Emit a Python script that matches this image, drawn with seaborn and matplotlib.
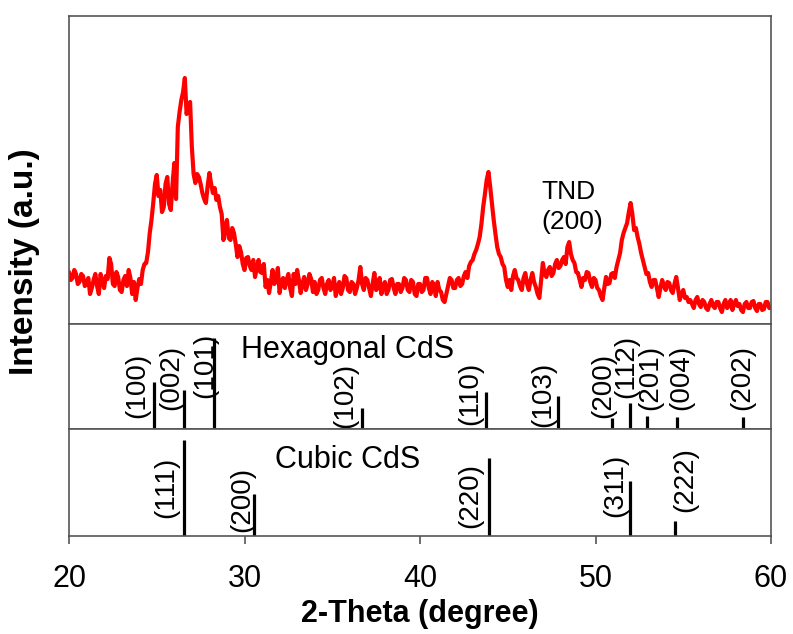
import numpy as np
import pandas as pd
import matplotlib
matplotlib.use("Agg")
import matplotlib.pyplot as plt
import seaborn as sns

# ---------------- data ----------------
two_theta = np.round(np.arange(20.0, 60.001, 0.1), 1)
intensity = [
    52, 44, 46, 54, 50, 40, 42, 50, 48, 38,        # 20
    40, 46, 30, 36, 44, 50, 38, 30, 50, 42,        # 21
    36, 48, 45, 66, 60, 40, 38, 52, 47, 34,        # 22
    32, 44, 48, 38, 54, 46, 30, 42, 24, 36,        # 23
    45, 40, 54, 60, 61, 72, 91, 104, 121, 140,     # 24
    149, 128, 134, 112, 117, 140, 147, 120, 114, 140,  # 25
    161, 125, 197, 212, 224, 232, 246, 210, 217, 222,  # 26
    177, 150, 141, 150, 147, 140, 131, 125, 121, 138,  # 27
    151, 140, 131, 136, 124, 128, 117, 110, 84, 96,    # 28
    104, 86, 84, 96, 91, 80, 67, 78, 72, 60,       # 29
    54, 66, 67, 58, 54, 64, 47, 56, 64, 52,        # 30
    51, 60, 37, 44, 31, 42, 54, 40, 44, 56,        # 31
    31, 42, 46, 36, 44, 50, 36, 28, 50, 40,        # 32
    54, 44, 31, 40, 47, 34, 40, 50, 45, 32,        # 33
    42, 30, 34, 44, 46, 36, 30, 40, 44, 34,        # 34
    38, 46, 28, 36, 42, 30, 36, 48, 46, 34,        # 35
    32, 42, 40, 30, 36, 44, 57, 40, 34, 46,        # 36
    44, 36, 28, 40, 51, 34, 36, 46, 30, 38,        # 37
    42, 30, 34, 44, 45, 36, 30, 40, 40, 32,        # 38
    36, 46, 44, 34, 32, 44, 42, 30, 28, 40,        # 39
    40, 32, 34, 46, 46, 36, 30, 42, 38, 28,        # 40
    42, 34, 32, 24, 22, 30, 38, 46, 44, 36,        # 41
    36, 44, 46, 38, 40, 48, 52, 46, 58, 62,        # 42
    64, 70, 74, 80, 87, 100, 117, 130, 144, 152,   # 43
    137, 120, 104, 90, 77, 70, 67, 60, 57, 44,     # 44
    37, 44, 34, 48, 54, 46, 44, 38, 34, 46,        # 45
    51, 40, 34, 44, 51, 42, 37, 30, 26, 44,        # 46
    61, 50, 47, 54, 57, 48, 51, 60, 64, 56,        # 47
    58, 64, 67, 60, 77, 82, 70, 64, 61, 52,        # 48
    51, 44, 37, 46, 44, 52, 51, 42, 37, 46,        # 49
    44, 36, 34, 28, 24, 36, 47, 40, 41, 50,        # 50
    51, 46, 57, 64, 71, 84, 91, 96, 101, 112,      # 51
    121, 110, 94, 96, 87, 80, 71, 64, 57, 50,      # 52
    51, 42, 37, 44, 44, 36, 27, 36, 44, 38,        # 53
    34, 42, 41, 34, 31, 40, 47, 36, 24, 30,        # 54
    34, 26, 27, 22, 24, 20, 16, 24, 27, 20,        # 55
    17, 24, 22, 16, 14, 20, 24, 18, 16, 22,        # 56
    22, 16, 12, 20, 24, 16, 18, 24, 14, 20,        # 57
    24, 18, 20, 14, 12, 20, 22, 16, 16, 22,        # 58
    23, 16, 13, 20, 20, 14, 15, 22, 22, 16,        # 59
    16,                                            # 60
]

hex_hkl = ["(100)", "(002)", "(101)", "(102)", "(110)", "(103)", "(200)", "(112)", "(201)", "(004)", "(202)"]
hex_pos = [24.86, 26.55, 28.24, 36.68, 43.76, 47.84, 50.96, 51.97, 52.92, 54.64, 58.38]
hex_int = [52, 43, 100, 23, 41, 37, 12, 29, 14, 13, 13]

cub_hkl = ["(111)", "(200)", "(220)", "(311)", "(222)"]
cub_pos = [26.55, 30.52, 43.93, 51.97, 54.55]
cub_int = [100, 44, 82, 58, 16]

x_ticks = [20, 30, 40, 50, 60]

# label placement (style): x offset in degrees, bottom of label as panel fraction
hex_lab_dx = [-0.95, -0.70, -0.50, -0.95, -0.91, -0.82, -0.51, -0.19, 0.19, 0.27, 0.0]
hex_lab_y = [0.105, 0.18, 0.295, 0.01, 0.04, 0.02, 0.105, 0.295, 0.18, 0.18, 0.18]
cub_lab_dx = [-0.99, -0.63, -1.08, -0.85, 0.55]
cub_lab_y = [0.168, 0.037, 0.075, 0.178, 0.224]

# ---------------- style ----------------
sns.set_style("white")
plt.rcParams["font.family"] = ["Liberation Sans", "DejaVu Sans"]
plt.rcParams["text.color"] = "black"
plt.rcParams["axes.labelcolor"] = "black"
plt.rcParams["xtick.color"] = "black"
plt.rcParams["xtick.labelcolor"] = "black"
spine_col = "#555555"

W, H = 793, 634
fig = plt.figure(figsize=(W / 100, H / 100), dpi=100)

def fx(px):
    return px / W

def fy(py):
    return 1 - py / H

left, right = 69, 771
ax_top = fig.add_axes([fx(left), fy(324), fx(right - left), (324 - 16) / H])
ax_hex = fig.add_axes([fx(left), fy(429), fx(right - left), (429 - 324) / H])
ax_cub = fig.add_axes([fx(left), fy(536), fx(right - left), (536 - 429) / H])

df = pd.DataFrame({"two_theta": two_theta, "intensity": intensity})
sns.lineplot(data=df, x="two_theta", y="intensity", ax=ax_top, color="#ff0000",
             linewidth=3.0, estimator=None)
ax_top.set_ylim(0, 308)
ax_top.text(46.9, 132, "TND", fontsize=19, ha="left", va="center", color="black")
ax_top.text(46.9, 102, "(200)", fontsize=19, ha="left", va="center", color="black")

# sticks
ax_hex.vlines(hex_pos, 0, hex_int, color="black", linewidth=2.3)
ax_hex.set_ylim(0, 116)
for hkl, p, dx, yl in zip(hex_hkl, hex_pos, hex_lab_dx, hex_lab_y):
    ax_hex.text(p + dx, yl, hkl, rotation=90, fontsize=20, ha="center", va="bottom",
                color="black", transform=ax_hex.get_xaxis_transform())
ax_hex.text(35.9, 0.75, "Hexagonal CdS", fontsize=22, ha="center", va="center",
            color="black", transform=ax_hex.get_xaxis_transform())

ax_cub.vlines(cub_pos, 0, cub_int, color="black", linewidth=2.3)
ax_cub.set_ylim(0, 112)
for hkl, p, dx, yl in zip(cub_hkl, cub_pos, cub_lab_dx, cub_lab_y):
    ax_cub.text(p + dx, yl, hkl, rotation=90, fontsize=20, ha="center", va="bottom",
                color="black", transform=ax_cub.get_xaxis_transform())
ax_cub.text(35.87, 0.71, "Cubic CdS", fontsize=22, ha="center", va="center",
            color="black", transform=ax_cub.get_xaxis_transform())

for ax in (ax_top, ax_hex, ax_cub):
    ax.set_xlim(20, 60)
    ax.set_yticks([])
    ax.set_xlabel("")
    ax.set_ylabel("")
    for s in ax.spines.values():
        s.set_visible(True)
        s.set_color(spine_col)
        s.set_linewidth(1.2)

for ax in (ax_top, ax_hex):
    ax.set_xticks([])

ax_cub.set_xticks(x_ticks)
ax_cub.set_xticklabels([str(t) for t in x_ticks])
ax_cub.tick_params(axis="x", direction="out", length=6, width=1.2, color=spine_col,
                   labelcolor="black", labelsize=22, pad=14, bottom=True)
ax_cub.set_xlabel("2-Theta (degree)", fontsize=22, fontweight="bold", labelpad=4,
                  color="black")

fig.text(fx(25), fy(262), "Intensity (a.u.)", rotation=90, fontsize=24,
         fontweight="bold", ha="center", va="center", color="black")

fig.savefig("out.png", dpi=100)
